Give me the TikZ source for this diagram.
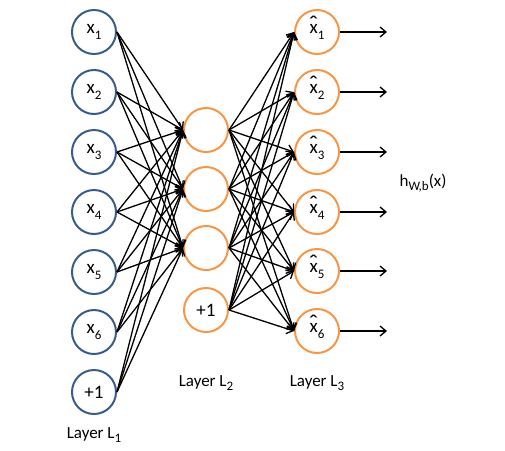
\documentclass[tikz,border=0pt]{standalone}
\usepackage{fontspec}
\setmainfont{Carlito}
\usetikzlibrary{arrows.meta, positioning}

\definecolor{unitblue}{HTML}{385D8A}
\definecolor{unitorange}{HTML}{F79646}

\newcommand{\xhat}{\ooalign{x\cr\hidewidth\raisebox{2pt}{\scalebox{1.4}[1.2]{\char"02C6}}\hidewidth\cr}}
\newcommand{\sub}[1]{\raisebox{-0.28em}{\fontsize{13}{13}\selectfont #1}}

\tikzset{
  unit/.style={circle, draw, line width=2pt, minimum size=44pt, inner sep=0pt,
    font=\fontsize{19}{22}\selectfont},
  inunit/.style={unit, draw=unitblue},
  hidunit/.style={unit, draw=unitorange},
  layerlabel/.style={font=\fontsize{17}{20}\selectfont}
}

\begin{document}
\begin{tikzpicture}[x=1pt,y=1pt,node distance=60pt,on grid,
    >={Straight Barb[length=6pt,width=10pt]}, line width=1.3pt]
        \useasboundingbox (0,0) rectangle (505,-450);

        % input layer
        \node[inunit]   (x1)   at (94,-32)          {x\sub{1}};
        \node[inunit]   (x2)   [below=of x1]        {x\sub{2}};
        \node[inunit]   (x3)   [below=of x2]        {x\sub{3}};
        \node[inunit]   (x4)   [below=of x3]        {x\sub{4}};
        \node[inunit]   (x5)   [below=of x4]        {x\sub{5}};
        \node[inunit]   (x6)   [below=of x5]        {x\sub{6}};
        \node[inunit]   (x7)   [below=of x6]        {+1};

        % hidden layer
        \node[hidunit]  (a1)   at (206,-130)        {};
        \node[hidunit]  (a2)   [below=59pt of a1]   {};
        \node[hidunit]  (a3)   [below=59pt of a2]   {};
        \node[hidunit]  (a4)   [below=62pt of a3]   {+1};

        % output layer
        \node[hidunit]  (y1)   at (317,-32)         {\xhat\sub{1}};
        \node[hidunit]  (y2)   [below=of y1]        {\xhat\sub{2}};
        \node[hidunit]  (y3)   [below=of y2]        {\xhat\sub{3}};
        \node[hidunit]  (y4)   [below=of y3]        {\xhat\sub{4}};
        \node[hidunit]  (y5)   [below=59pt of y4]   {\xhat\sub{5}};
        \node[hidunit]  (y6)   [below=of y5]        {\xhat\sub{6}};

        \node[layerlabel] (l1) [below=43pt of x7]   {Layer L\sub{1}};
        \node[layerlabel] (l2) [below=73pt of a4]   {Layer L\sub{2}};
        \node[layerlabel] (l3) [below=52pt of y6]   {Layer L\sub{3}};
        \node[layerlabel] (h)  at (423,-183)        {h\sub{W,b}(x)};

        \foreach \i in {1,...,7}
          \foreach \j in {1,2,3}
            \draw[->] (x\i.east) -- (a\j.west);
        \foreach \i in {1,...,4}
          \foreach \j in {1,...,6}
            \draw[->] (a\i.east) -- (y\j.west);
        \foreach \j in {1,...,6} {
          \coordinate (o\j) at ([xshift=70pt]y\j.center);
          \draw[->] (y\j.east) -- (o\j);
        }
\end{tikzpicture}
\end{document}
